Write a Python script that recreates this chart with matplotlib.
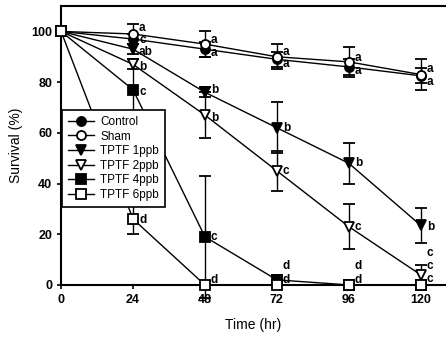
import matplotlib
matplotlib.use('Agg')
import matplotlib.pyplot as plt
from matplotlib.lines import Line2D

plt.rcParams['font.family'] = ['Liberation Sans', 'DejaVu Sans']

hours = [0, 24, 48, 72, 96, 120]

control = [100, 97, 93, 89, 86, 82.5]
control_err = [0, 2, 3, 3, 3, 3]
sham = [100, 99, 95, 90, 88, 83]
sham_err = [0, 4, 5, 5, 6, 6]
tptf1 = [100, 93, 76, 62, 48, 23.5]
tptf1_err = [0, 2, 2, 10, 8, 7]
tptf2 = [100, 87, 67, 45, 23, 4]
tptf2_err = [0, 2, 9, 8, 9, 4]
tptf4 = [100, 77, 19, 2, 0, 0]
tptf4_err = [0, 12, 24, 2, 0, 0]
tptf6 = [100, 26, 0, 0, 0, 0]
tptf6_err = [0, 6, 0, 0, 0, 0]

series = [
    ('Control', control, control_err, 'o', 'black'),
    ('Sham', sham, sham_err, 'o', 'white'),
    ('TPTF 1ppb', tptf1, tptf1_err, 'v', 'black'),
    ('TPTF 2ppb', tptf2, tptf2_err, 'v', 'white'),
    ('TPTF 4ppb', tptf4, tptf4_err, 's', 'black'),
    ('TPTF 6ppb', tptf6, tptf6_err, 's', 'white'),
]

# significance letters: (x, y, text)
letters = [
    (24, 101.5, 'a'), (24, 96.5, 'c'), (24, 92, 'ab'), (24, 86, 'b'), (24, 76, 'c'), (24, 25.5, 'd'),
    (48, 96.5, 'a'), (48, 91.5, 'a'), (48, 77, 'b'), (48, 66, 'b'), (48, 19, 'c'), (48, 2, 'd'),
    (72, 92, 'a'), (72, 87, 'a'), (72, 62, 'b'), (72, 45, 'c'), (72, 7.5, 'd'), (72, 2, 'd'),
    (96, 89.5, 'a'), (96, 84.5, 'a'), (96, 48, 'b'), (96, 23, 'c'), (96, 7.5, 'd'), (96, 2, 'd'),
    (120, 85, 'a'), (120, 80, 'a'), (120, 23, 'b'), (120, 12.5, 'c'), (120, 7.5, 'c'), (120, 2.5, 'c'),
]

fig = plt.figure(figsize=(4.46, 3.38), dpi=100)
ax = fig.add_axes([0.137, 0.157, 0.86, 0.825])

handles = []
for name, vals, err, mk, fc in series:
    ax.errorbar(hours, vals, yerr=err, color='black', lw=1, marker=mk,
                markersize=6.5, markerfacecolor=fc, markeredgecolor='black',
                markeredgewidth=1.3, capsize=4, elinewidth=1, capthick=1,
                clip_on=False, zorder=3)
    handles.append(Line2D([], [], color='black', lw=1, marker=mk, markersize=6.5,
                          markerfacecolor=fc, markeredgecolor='black',
                          markeredgewidth=1.3, label=name))

for x, y, t in letters:
    ax.text(x + 2, y, t, fontsize=8.5, fontweight='bold', va='center', ha='left')

ax.set_xlim(0, 128)
ax.set_ylim(0, 110)
ax.set_xticks(hours)
ax.set_yticks([0, 20, 40, 60, 80, 100])
ax.tick_params(labelsize=9, width=1.2, length=3)
for lbl in ax.get_xticklabels() + ax.get_yticklabels():
    lbl.set_fontweight('bold')
for s in ax.spines.values():
    s.set_linewidth(1.5)
ax.spines['right'].set_visible(False)

ax.set_xlabel('Time (hr)', fontsize=10, labelpad=9)
ax.set_ylabel('Survival (%)', fontsize=10, labelpad=6)

leg = ax.legend(handles=handles, loc='upper left', bbox_to_anchor=(0.003, 0.627),
                borderaxespad=0, fontsize=8.5, frameon=True, fancybox=False,
                framealpha=1, handlelength=2.2, borderpad=0.5,
                labelspacing=0.22, handletextpad=0.5)
leg.get_frame().set_edgecolor('black')
leg.get_frame().set_linewidth(1.2)
leg.set_zorder(10)

fig.savefig('out.png', dpi=100)
